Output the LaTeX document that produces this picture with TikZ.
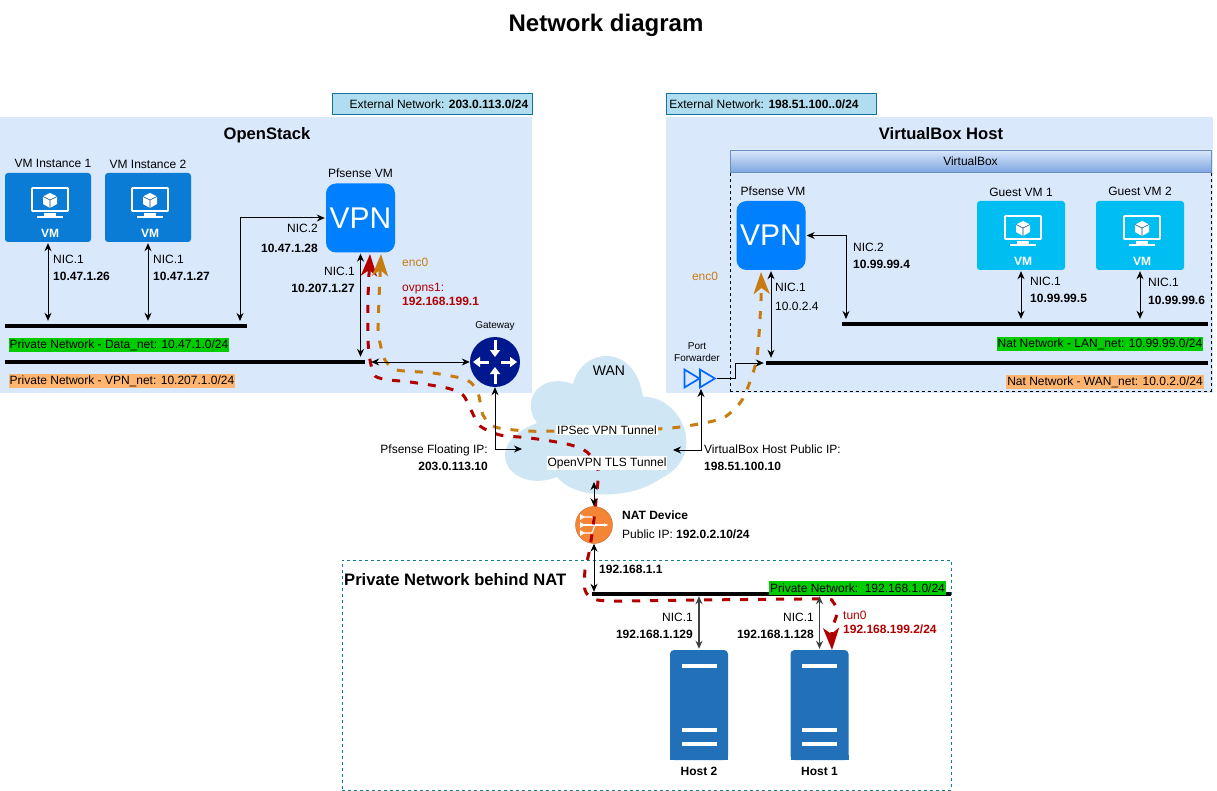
\documentclass[tikz,border=0pt]{standalone}
\usepackage{fontspec}
\usepackage{xcolor,tikz}
\setmainfont{Liberation Sans}
\usetikzlibrary{arrows.meta,positioning,shapes.geometric,calc}
\definecolor{panel}{HTML}{DAE8FC}
\definecolor{extfill}{HTML}{B1DDF0}
\definecolor{extline}{HTML}{10739E}
\definecolor{azure}{HTML}{0A7CD6}
\definecolor{guest}{HTML}{00BEF2}
\definecolor{vpnblue}{HTML}{007FFF}
\definecolor{navy}{HTML}{00188D}
\definecolor{hostblue}{HTML}{2170B8}
\definecolor{wan}{HTML}{CFE6F4}
\definecolor{natorange}{HTML}{F58536}
\definecolor{netgreen}{HTML}{00CC00}
\definecolor{netorange}{HTML}{FFB570}
\definecolor{ovpnred}{HTML}{B20000}
\definecolor{ipsec}{HTML}{C77C11}
\definecolor{teal}{HTML}{0E8088}
\definecolor{swim}{HTML}{7EA6E0}
\definecolor{swimline}{HTML}{6C8EBF}
\begin{document}
\begin{tikzpicture}[x=1pt,y=-1pt,font=\fontsize{12}{17}\selectfont,
lbl/.style={inner sep=0pt,align=left},
lblr/.style={inner sep=0pt,align=right},
panelbox/.style={rectangle,fill=panel,inner sep=0pt},
extbox/.style={draw=extline,fill=extfill,line width=1pt,minimum height=21pt,inner sep=0pt},
head/.style={inner sep=0pt,font=\fontsize{16.6}{18}\selectfont\bfseries},
vmtile/.style={rectangle,rounded corners=3pt,minimum width=86pt,minimum height=69pt,inner sep=0pt,
label={[anchor=south,inner sep=0pt,yshift=4pt,xshift=2pt,text=white,font=\fontsize{12}{14}\selectfont\bfseries]south:VM}},
vpntile/.style={rectangle,rounded corners=10pt,fill=vpnblue,text=white,minimum width=69pt,minimum height=69pt,
inner sep=0pt,font=\fontsize{30}{33}\selectfont},
bus/.style={rectangle,fill=black,minimum height=4pt,inner sep=0pt},
nettag/.style={inner sep=1pt,minimum height=14pt,font=\fontsize{12}{14}\selectfont},
hostbox/.style={rectangle,rounded corners=4pt,fill=hostblue,minimum width=58pt,minimum height=110pt,inner sep=0pt},
fwdtri/.style={isosceles triangle,isosceles triangle stretches,draw=blue!60!cyan,line width=1.7pt,minimum width=18pt,
minimum height=15pt,inner sep=0pt},
arr/.style={{Stealth[length=8pt,width=7pt]}-{Stealth[length=8pt,width=7pt]},line width=1pt},
ovpn/.style={draw=ovpnred,line width=3pt,dash pattern=on 8pt off 10pt,
{Stealth[length=22pt,width=16pt,inset=6pt]}-{Stealth[length=22pt,width=16pt,inset=6pt]}},
ipsectun/.style={draw=ipsec,line width=3pt,dash pattern=on 8pt off 10pt,
{Stealth[length=22pt,width=16pt,inset=6pt]}-{Stealth[length=22pt,width=16pt,inset=6pt]}},
pics/vmicon/.style={code={
\draw[white,line width=1.6pt,rounded corners=.5pt] (-18,-14) rectangle (18,9);
\fill[white] (-6,11) rectangle (6,14);
\fill[white] (-13,14) rectangle (13,16);
\fill[white] (0,-9) -- (7,-5.5) -- (7,2) -- (0,6) -- (-7,2) -- (-7,-5.5) -- cycle;
\draw[azure!60!black,line width=.6pt] (-7,-5.5) -- (0,-2) -- (7,-5.5) (0,-2) -- (0,6);
}},
pics/hostbars/.style={code={
\fill[hostblue] (-29,50) rectangle (29,55);
\foreach \y in {-41,23,37} \fill[white] (-17.5,\y) rectangle (17.5,\y+4);
}}]
\useasboundingbox (0,0) rectangle (1217,791);
\node[inner sep=0pt,font=\fontsize{24}{26}\selectfont\bfseries] (title) at (606,25) {Network diagram};
% panels
\node[panelbox,minimum width=532pt,minimum height=276pt] (ospanel) at (266,255) {};
\node[panelbox,minimum width=547pt,minimum height=276pt] (vbpanel) at (939.5,255) {};
\node[extbox,minimum width=200pt] (osext) at (432,104.5) {\hspace{14pt}External Network: \textbf{203.0.113.0/24}};
\node[extbox,minimum width=210pt] (vbext) at (771,104.5) {External Network: \textbf{198.51.100..0/24}\hspace{14pt}\mbox{}};
\node[head] (oslabel) at (267,135) {OpenStack};
\node[head] (vblabel) at (941,134) {VirtualBox Host};
\node[draw=black,dashed,minimum width=481pt,minimum height=219pt,inner sep=0pt] (vbbody) at (970.5,281.5) {};
\node[draw=swimline,top color=panel,bottom color=swim,minimum width=481pt,minimum height=22pt,inner sep=0pt] (vbhead) at (970.5,161) {VirtualBox};
\node[draw=teal,dashed,minimum width=609pt,minimum height=230pt,inner sep=0pt] (natbox) at (646.5,675) {};
\node[head,anchor=west] (natlabel) at (344,580) {Private Network behind NAT};
% wan cloud
\fill[wan] (573,384) .. controls (582,347) and (635,342) .. (643,397) .. controls (680,395) and (710,455) .. (660,479)
.. controls (630,500) and (575,500) .. (557,477) .. controls (510,495) and (478,445) .. (537,423)
.. controls (520,400) and (540,372) .. (573,384) -- cycle;
\node[inner sep=0pt,font=\fontsize{14}{16}\selectfont] (wanlabel) at (609,371) {WAN};
% vm tiles
\node[vmtile,fill=azure] (vminst1) at (48,207.5) {};
\node[vmtile,fill=azure] (vminst2) at (148,207.5) {};
\node[vmtile,fill=guest,minimum width=88pt] (guest1) at (1021,235.5) {};
\node[vmtile,fill=guest,minimum width=88pt] (guest2) at (1140,235.5) {};
\pic at (50,202) {vmicon};
\pic at (150,202) {vmicon};
\pic at (1023,230) {vmicon};
\pic at (1142,230) {vmicon};
\node[lbl,above=5pt of vminst1,xshift=5pt] (vminst1cap) {VM Instance 1};
\node[lbl,above=4pt of vminst2] (vminst2cap) {VM Instance 2};
\node[lbl,above=4pt of guest1] (guest1cap) {Guest VM 1};
\node[lbl,above=5pt of guest2] (guest2cap) {Guest VM 2};
\node[vpntile] (vpnos) at (360.5,218) {VPN};
\node[vpntile] (vpnvb) at (771,235.5) {VPN};
\node[lbl,above=5pt of vpnos] (vpnoscap) {Pfsense VM};
\node[lbl,above=5pt of vpnvb,xshift=2pt] (vpnvbcap) {Pfsense VM};
% buses
\node[bus,minimum width=242pt] (datanet) at (126,326) {};
\node[bus,minimum width=360pt] (vpnnet) at (185,362) {};
\node[bus,minimum width=366pt] (lannet) at (1025,324) {};
\node[bus,minimum width=442pt] (wannet) at (987,363) {};
\node[bus,minimum width=359pt] (privnet) at (771.5,594) {};
\node[nettag,fill=netgreen,minimum width=220pt] (datatag) at (119,345) {Private Network - Data\_net: 10.47.1.0/24};
\node[nettag,fill=netorange,minimum width=226pt] (vpntag) at (122,381) {Private Network - VPN\_net: 10.207.1.0/24};
\node[nettag,fill=netgreen,minimum width=206pt] (lantag) at (1100,344) {Nat Network - LAN\_net: 10.99.99.0/24};
\node[nettag,fill=netorange,minimum width=196pt] (wantag) at (1105,382) {Nat Network - WAN\_net: 10.0.2.0/24};
\node[nettag,fill=netgreen,minimum width=177pt] (privtag) at (857.5,588) {Private Network:\ \ 192.168.1.0/24};
% devices
\node[circle,fill=navy,minimum size=50pt,inner sep=0pt] (gateway) at (495,362) {};
\foreach \ax/\ay/\bx/\by in {0/-22/0/-5,0/22/0/5,-6/0/-22/0,6/0/22/0}
\draw[white,line width=3pt,-{Triangle[length=7pt,width=10pt]}] ($(gateway)+(\ax,\ay)$) -- ($(gateway)+(\bx,\by)$);
\node[inner sep=0pt,font=\fontsize{10}{12}\selectfont,above=6pt of gateway] (gatewaycap) {Gateway};
\node[circle,fill=natorange,draw=natorange!80!black,minimum size=37pt,inner sep=0pt] (natdev) at (594,525) {};
\draw[white,line width=1.1pt,-{Latex[length=5pt]}] (584,525) -- (609,525);
\draw[white,line width=1.1pt] (584,517) -- (592,517) -- (595,525) -- (592,533) -- (584,533);
\fill[white] (580,514) -- (585,517) -- (580,520) -- cycle (580,522) -- (585,525) -- (580,528) -- cycle (580,530) -- (585,533) -- (580,536) -- cycle;
\node[fwdtri] (pfw1) at (689.5,378.5) {};
\node[fwdtri] (pfw2) at (705,378.5) {};
\node[inner sep=0pt,font=\fontsize{10}{12}\selectfont,align=center] (pfwcap) at (697,352) {Port\\Forwarder};
\node[hostbox] (host2) at (699,705) {};
\node[hostbox] (host1) at (819.5,705) {};
\pic at (699,705) {hostbars};
\pic at (819.5,705) {hostbars};
\node[lbl,font=\fontsize{12}{14}\selectfont\bfseries,below=7pt of host2] (host2cap) {Host 2};
\node[lbl,font=\fontsize{12}{14}\selectfont\bfseries,below=7pt of host1] (host1cap) {Host 1};
% tunnels
\coordinate (ovpnos) at (370,254);
\coordinate (ovpnhost) at (832,650);
\coordinate (ipsecos) at (381,254);
\coordinate (ipsecvb) at (761,272);
\draw[ovpn] plot[smooth,tension=.45] coordinates {(ovpnos) (368,300) (368,340) (370,360) (375,376) (390,380) (410,382) (447,388)
(463,395) (471,410) (480,426) (500,435) (530,438) (567,444) (587,452) (598,470) (596,500) (593,527) (589,553) (585,570) (585,590)
(592,598) (610,601) (700,600) (820,599) (833,602) (837,613) (832,630) (ovpnhost)};
\draw[ipsectun] plot[smooth,tension=.45] coordinates {(ipsecos) (379,300) (378,330) (380,343) (385,360) (397,370) (433,373) (467,380)
(478,393) (483,415) (495,427) (527,431) (560,431) (657,429) (693,425) (723,418) (740,403) (748,387) (757,357) (761,300) (ipsecvb)};
% links
\coordinate (datatap) at (240,324);
\coordinate (lantap) at (846,322);
\coordinate (oswan) at (522,449);
\coordinate (vbwan) at (673,450);
\coordinate (pfwend) at (735,378.5);
\coordinate (pfwin) at (701,389);
\coordinate (natup) at (594,482);
\draw[arr,shorten <=1pt,shorten >=3pt] (vminst1.south) -- (vminst1.south |- datanet.north);
\draw[arr,shorten <=1pt,shorten >=3pt] (vminst2.south) -- (vminst2.south |- datanet.north);
\draw[arr,shorten <=1pt,shorten >=3pt] (vpnos.south) -- (vpnos.south |- vpnnet.north);
\draw[arr,shorten <=1pt,shorten >=3pt] (vpnvb.south) -- (vpnvb.south |- wannet.north);
\draw[arr,shorten <=1pt,shorten >=3pt] (guest1.south) -- (guest1.south |- lannet.north);
\draw[arr,shorten <=1pt,shorten >=3pt] (guest2.south) -- (guest2.south |- lannet.north);
\draw[arr,shorten <=1pt,shorten >=3pt] (vpnos.west) -| (datatap);
\draw[arr,shorten <=1pt,shorten >=3pt] (vpnvb.east) -| (lantap);
\draw[arr,shorten <=6pt] (vpnnet.east) -- (gateway.west);
\draw[arr] (gateway.south) |- (oswan);
\draw[arr] (pfwin) |- (vbwan);
\draw[arr,-{Stealth[length=8pt,width=7pt]}] (pfw2.apex) -- (pfwend) |- ([xshift=-2pt]wannet.west);
\draw[arr] (natdev.north) -- (natup);
\draw[arr] (natdev.south) -- (natdev.south |- privnet.north);
\draw[arr,black!75,line width=1.4pt,shorten <=1pt] (host2.north) -- (host2.north |- privnet.south);
\draw[arr,black!75,line width=1.4pt,shorten <=1pt] (host1.north) -- (host1.north |- privnet.south);
% labels
\node[lbl,anchor=west] (nicvm1) at (53,268) {NIC.1\\\textbf{10.47.1.26}};
\node[lbl,anchor=west] (nicvm2) at (153,268) {NIC.1\\\textbf{10.47.1.27}};
\node[lblr,anchor=east] (nicos2) at (318,238) {NIC.2\\[3pt]\textbf{10.47.1.28}};
\node[lblr,anchor=east] (nicos1) at (355,280) {NIC.1\\\textbf{10.207.1.27}};
\node[lbl,text=ipsec,anchor=west] (encos) at (402,262) {enc0};
\node[lbl,text=ovpnred,anchor=west,font=\fontsize{12}{14}\selectfont] (ovpnsos) at (402,294) {ovpns1:\\\textbf{192.168.199.1}};
\node[lbl,text=ipsec] (encvb) at (705,276) {enc0};
\node[lbl,anchor=west] (nicvb2) at (853,256) {NIC.2\\\textbf{10.99.99.4}};
\node[lbl,anchor=west] (nicvb1) at (775,297) {NIC.1\\[2pt]10.0.2.4};
\node[lbl,anchor=west] (nicg1) at (1030,290) {NIC.1\\\textbf{10.99.99.5}};
\node[lbl,anchor=west] (nicg2) at (1148,291) {NIC.1\\[1pt]\textbf{10.99.99.6}};
\node[lblr,anchor=east] (osfloat) at (488,457.5) {Pfsense Floating IP:\\\textbf{203.0.113.10}};
\node[lbl,anchor=west] (vbpub) at (704,457.5) {VirtualBox Host Public IP:\\\textbf{198.51.100.10}};
\node[fill=white,inner sep=1pt,font=\fontsize{12}{14}\selectfont] (ipsectag) at (607,430) {IPSec VPN Tunnel};
\node[fill=white,inner sep=1pt,font=\fontsize{12}{14}\selectfont] (ovpntag) at (607,463) {OpenVPN TLS Tunnel};
\node[lbl,anchor=west,font=\fontsize{12}{19}\selectfont] (natinfo) at (622,525) {\textbf{NAT Device}\\Public IP: \textbf{192.0.2.10/24}};
\node[lbl,anchor=west] (natgw) at (599,569) {\textbf{192.168.1.1}};
\node[lblr,anchor=east] (nichost2) at (693,625.5) {NIC.1\\\textbf{192.168.1.129}};
\node[lblr,anchor=east] (nichost1) at (814,625.5) {NIC.1\\\textbf{192.168.1.128}};
\node[lbl,text=ovpnred,anchor=west,font=\fontsize{12}{14}\selectfont] (tunhost) at (843,622) {tun0\\\textbf{192.168.199.2/24}};
\end{tikzpicture}
\end{document}
